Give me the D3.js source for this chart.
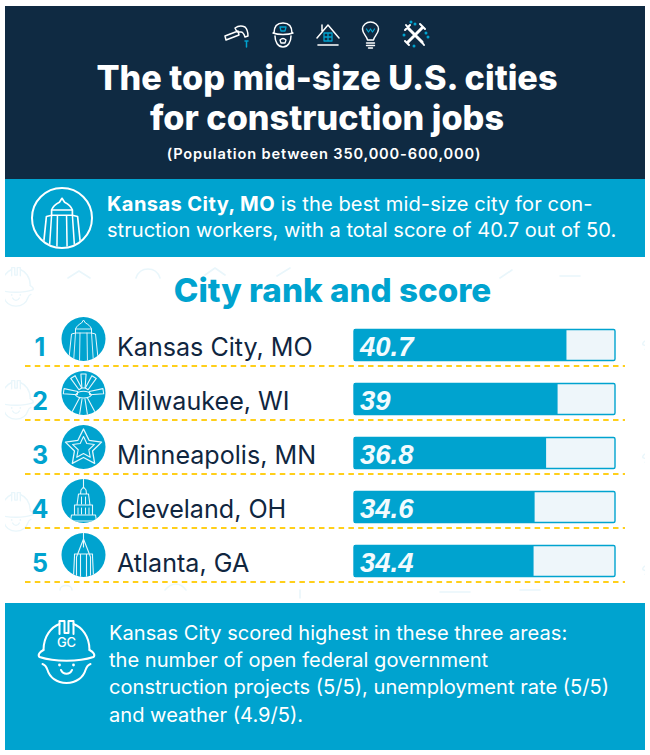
<!DOCTYPE html>
<html><head><meta charset="utf-8">
<script src="https://cdn.jsdelivr.net/npm/d3@7"></script>
<style>html,body{margin:0;padding:0;background:#fff}svg{display:block}text{font-family:Inter,sans-serif}</style>
</head><body><svg id="c" width="650" height="755"></svg>
<script>
const cities=["Kansas City, MO","Milwaukee, WI","Minneapolis, MN","Cleveland, OH","Atlanta, GA"];
const ranks=[1,2,3,4,5];
const scores=[40.7,39,36.8,34.6,34.4];
const scoreLabels=["40.7","39","36.8","34.6","34.4"];
const maxScore=50;
const titleLines=["The top mid-size U.S. cities","for construction jobs"];
const subtitle="(Population between 350,000-600,000)";
const chartTitle="City rank and score";
const bottomLines=["Kansas City scored highest in these three areas:","the number of open federal government","construction projects (5/5), unemployment rate (5/5)","and weather (4.9/5)."];

const NAVY="#0f2a42",BLUE="#00a3cf",INK="#10263f",GOLD="#ffcf1a",WM="#e9f6fb";
const svg=d3.select("#c");
const defs=svg.append("defs");
const rect=(g,x,y,w,h,f)=>g.append("rect").attr("x",x).attr("y",y).attr("width",w).attr("height",h).attr("fill",f);
const path=(g,d,c,w,f)=>g.append("path").attr("d",d).attr("fill",f||"none").attr("stroke",c).attr("stroke-width",w).attr("stroke-linecap","round").attr("stroke-linejoin","round");

function helmet(g,c,w){
  path(g,"M-23,1C-23,-13 -15,-22 -7,-25M7,-25C15,-22 23,-13 23,1",c,w);
  path(g,"M-7,-15L-7,-28L-2,-28L-2,-16L2,-16L2,-28L7,-28L7,-15",c,w);
  path(g,"M-23,1C-27,3 -29,6 -27,8C-12,13 12,13 27,8C29,6 27,3 23,1",c,w);
  path(g,"M-24,15C-21,16 -20,18 -19,21C-17,28 -10,34 0,34C10,34 17,28 19,21C20,18 21,16 24,15",c,w);
  path(g,"M-5.5,21C-3,26 3,26 5.5,21",c,w);
  g.append("circle").attr("cx",-7).attr("cy",16).attr("r",1.4).attr("fill",c);
  g.append("circle").attr("cx",7).attr("cy",16).attr("r",1.4).attr("fill",c);
}
function tower(g,c,w,s){
  g=g.append("g").attr("transform",`scale(${s})`);
  path(g,"M-15,24L-12,-5L-8,-6L-8,-10C-7,-13 -4,-15 -2,-16L0,-19L2,-16C4,-15 7,-13 8,-10L8,-6L12,-5L15,24",c,w);
  path(g,"M-8,-10L8,-10M-8,-6L8,-6M-8,-6L-10,24M8,-6L10,24M-3.5,-6L-4,24M3.5,-6L4,24",c,w*.9);
}
// ---- panels
rect(svg,5,6,640,173,NAVY);
rect(svg,5,179,640,78,BLUE);
rect(svg,5,603,640,147,BLUE);

// ---- watermark
const wm=svg.append("g").attr("clip-path","url(#wmclip)");
defs.append("clipPath").attr("id","wmclip").append("rect").attr("x",5).attr("y",257).attr("width",640).attr("height",346);
[[16,285],[16,398],[16,510],[660,340],[660,453],[660,565]].forEach(p=>{
  helmet(wm.append("g").attr("transform",`translate(${p[0]},${p[1]}) scale(.62)`),WM,2.2);
});
path(wm,"M68,278L79,271L90,278M136,278C140,266 156,266 160,278M205,275L215,268L225,275M277,276L290,268M500,278L512,270M560,276L580,276M60,590C60,584 72,584 72,590M165,590C172,582 180,582 186,590M300,590L300,598M440,592L470,592M520,590L540,590",WM,1.6);

// ---- header icons
const hi=svg.append("g");
const ic=(x)=>hi.append("g").attr("transform",`translate(${x},35)`);
let a=ic(236);
path(a,"M-11,1L-10,5L3,0L2,-4ZM-1,-7C3,-10 7,-9 9,-8C11,-6 12,-3 12,1L9,2C8,-1 7,-3 5,-3L1,-3Z","#fff",1.5);
path(a,"M9,6L12,6M10.5,6L10.5,12",BLUE,1.5);
a=ic(283);
path(a,"M-9,-2C-9,-9 -5,-12 0,-12C5,-12 9,-9 9,-2M-10,-2C-5,0 5,0 10,-2M-8,1C-8,7 -5,12 0,12C5,12 8,7 8,1","#fff",1.5);
path(a,"M-3,-8L3,-8L2,-4L-2,-4Z",BLUE,1.3);
path(a,"M-3,5C-1,3 1,3 3,5L2,8L-2,8Z","#fff",1.3);
a=ic(328);
path(a,"M-11,3L0,-10L11,3M-6,-4L-6,-10","#fff",1.5);
path(a,"M-10,10L10,10","#fff",1.6);
path(a,"M-4,-2H4V6H-4ZM0,-2V6M-4,2H4",BLUE,1.3);
a=ic(370.5);
path(a,"M-3,5C-3,2 -8,-1 -8,-6C-8,-10 -4,-13 0,-13C4,-13 8,-10 8,-6C8,-1 3,2 3,5Z","#fff",1.5);
path(a,"M-4,8H4M-4,10.5H4M-2,13H2","#fff",1.4);
path(a,"M-4,-6L-2,-3L0,-6L2,-3L4,-6",BLUE,1.2);
a=ic(415);
path(a,"M-7,-7L7,7M7,-7L-7,7","#fff",3);
path(a,"M-9,-10L-5,-5M9,10L6,6M5,-11L10,-6M-10,6L-6,10M-10,-5L-5,-10","#fff",2);
[[0,-11],[11,-2],[-11,0],[-1,11],[-4,-13],[13,2]].forEach((p,i)=>a.append("circle").attr("cx",p[0]).attr("cy",p[1]).attr("r",1.5).attr("fill",BLUE));

// ---- title
svg.append("g").selectAll("text").data(titleLines).join("text")
  .attr("x",327).attr("y",(d,i)=>90+i*40).attr("text-anchor","middle")
  .attr("fill","#fff").attr("font-size",34.2).attr("font-weight",800).text(d=>d);
svg.append("text").attr("x",324).attr("y",159).attr("text-anchor","middle").attr("fill","#fff")
  .attr("font-size",14.6).attr("font-weight",600).attr("letter-spacing",.85).text(subtitle);

// ---- band
const bi=svg.append("g").attr("transform","translate(62,218)");
bi.append("circle").attr("r",30).attr("fill","none").attr("stroke","#fff").attr("stroke-width",2);
defs.append("clipPath").attr("id","bandclip").append("circle").attr("r",29);
tower(bi.append("g").attr("clip-path","url(#bandclip)").append("g").attr("transform","translate(0,5)"),"#fff",1.3,1.3);

const t1=svg.append("text").attr("x",107).attr("y",211).attr("fill","#fff").attr("font-size",20.1);
t1.append("tspan").attr("font-weight",700).attr("letter-spacing",.4).text("Kansas City, MO");
t1.append("tspan").attr("font-weight",400).attr("letter-spacing",.1).text(" is the best mid-size city for con-");
svg.append("text").attr("x",107).attr("y",237).attr("fill","#fff").attr("font-size",20.1).text("struction workers, with a total score of 40.7 out of 50.");

// ---- chart
svg.append("text").attr("x",332.5).attr("y",302).attr("text-anchor","middle").attr("fill",BLUE)
  .attr("font-size",33.2).attr("font-weight",800).text(chartTitle);

const x=d3.scaleLinear().domain([0,maxScore]).range([354,615]);
const y=d3.scaleBand().domain(ranks).range([318.5,588.5]).paddingInner(0).paddingOuter(0);
const rows=svg.append("g").selectAll("g").data(cities.map((c,i)=>({c,i,r:ranks[i],s:scores[i],l:scoreLabels[i]}))).join("g")
  .attr("transform",d=>`translate(0,${y(d.r)})`);

rows.append("line").attr("x1",25).attr("x2",625).attr("y1",47.5).attr("y2",47.5)
  .attr("stroke",GOLD).attr("stroke-width",2).attr("stroke-dasharray","5.5 4.3");
rows.append("text").attr("x",40).attr("y",37).attr("text-anchor","middle").attr("fill",BLUE)
  .attr("font-size",25).attr("font-weight",700).text(d=>d.r);
rows.append("text").attr("x",117).attr("y",37).attr("fill",INK).attr("font-size",25.1).text(d=>d.c);

rows.append("rect").attr("x",x(0)).attr("y",11).attr("width",x(maxScore)-x(0)).attr("height",31).attr("rx",1.5)
  .attr("fill","#eef6fa").attr("stroke",BLUE).attr("stroke-width",1.4);
rows.append("rect").attr("x",x(0)).attr("y",10.5).attr("width",d=>x(d.s)-x(0)).attr("height",32).attr("fill",BLUE);
rows.append("text").attr("x",360).attr("y",37.5).attr("fill","#f2fbfe")
  .style("font-family","'Liberation Sans',Arial,sans-serif").attr("font-style","italic").attr("font-weight",700).attr("font-size",27.5).text(d=>d.l);

// ---- city badges
const badge=rows.append("g").attr("transform",`translate(83.5,20.5)`);
badge.append("circle").attr("r",22).attr("fill",BLUE);
defs.append("clipPath").attr("id","badgeclip").append("circle").attr("r",22);
const inner=badge.append("g").attr("clip-path","url(#badgeclip)");
const W="#e6f7fc";
inner.each(function(d){
  const g=d3.select(this);
  if(d.i===0){ tower(g,W,1,1); }
  if(d.i===1){
    [-82,-32,0,32,82].forEach(k=>{
      const gg=g.append("g").attr("transform",`translate(0,1) rotate(${k})`);
      path(gg,"M-1.6,-6L-2.6,-20L2.6,-20L1.6,-6Z",W,1.1);
    });
    path(g,"M-8,2C-5,-3 5,-3 8,2C5,6 -5,6 -8,2ZM-4,5L-12,20M4,5L12,20M-1.5,6L-4,22M1.5,6L4,22",W,1.1);
  }
  if(d.i===2){
    const st=(R,r)=>d3.range(10).map(k=>{const a=-Math.PI/2+k*Math.PI/5,q=k%2?r:R;return [q*Math.cos(a),q*Math.sin(a)+1];});
    path(g,"M"+st(19,9.5).join("L")+"Z",W,1.3);
    path(g,"M"+st(11.5,5.6).join("L")+"Z",W,1.1);
  }
  if(d.i===3){
    path(g,"M0,-23L0,-13M-2.5,-11L0,-14L2.5,-11L3,-7L-3,-7ZM-5,-7L5,-7L6.5,4L-6.5,4ZM-9,4L9,4L9,14L-9,14ZM-12,14L12,14L13,20L-13,20Z",W,1.1);
    path(g,"M-2,-4L-2,3M2,-4L2,3M-5.5,7L-5.5,13M-2,7L-2,13M2,7L2,13M5.5,7L5.5,13",W,1);
  }
  if(d.i===4){
    path(g,"M0,-24L0,-8M0,-16L-7,2L-7,22M0,-16L7,2L7,22M-9,1L-9,-1L9,-1L9,1M-9,1L-10,22M9,1L10,22M-3,-1L-3,22M3,-1L3,22",W,1.1);
  }
});

// ---- bottom band
const hh=svg.append("g").attr("transform","translate(66.5,649)");
helmet(hh,"#fff",2);
hh.append("text").attr("x",0).attr("y",-2).attr("text-anchor","middle").attr("fill","#fff")
  .attr("font-size",13).attr("font-weight",500).text("GC");
svg.append("g").selectAll("text").data(bottomLines).join("text")
  .attr("x",109).attr("y",(d,i)=>639.5+i*27.4).attr("fill","#fff").attr("font-size",20.1).text(d=>d);
</script></body></html>
